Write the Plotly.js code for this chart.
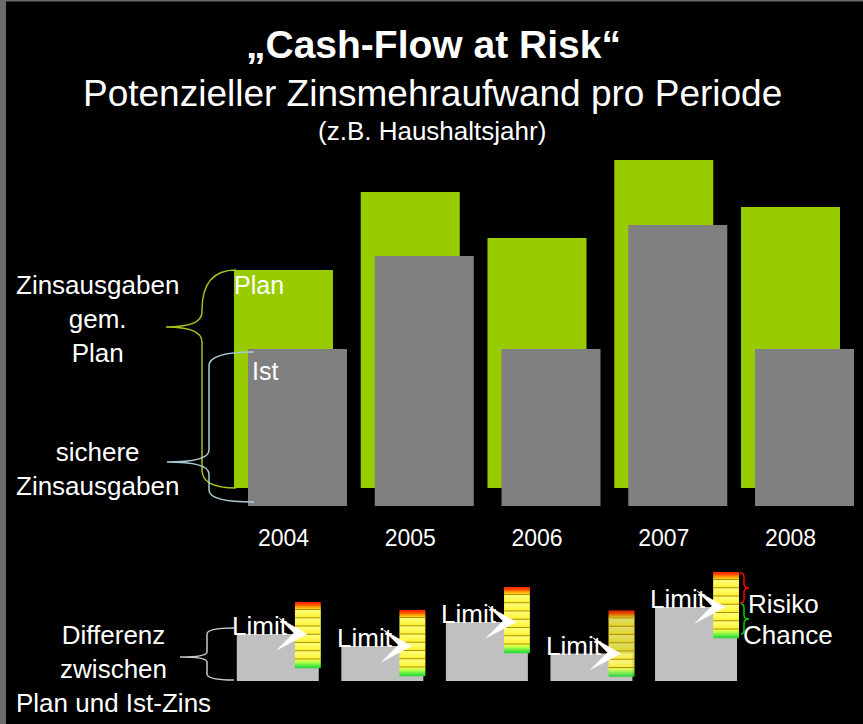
<!DOCTYPE html>
<html>
<head>
<meta charset="utf-8">
<script src="https://cdn.plot.ly/plotly-3.0.1.min.js"></script>
<style>
html,body{margin:0;padding:0;background:#000;}
#chart{width:863px;height:724px;}
</style>
</head>
<body>
<div id="chart"></div>
<script>
// ---- data ----
const years = ['2004', '2005', '2006', '2007', '2008'];
const planValues = [21.8, 29.6, 25.0, 32.8, 28.1];   // Zinsausgaben gem. Plan
const istValues = [15.7, 25.0, 15.7, 28.1, 15.7];    // sichere Zinsausgaben (Ist)
const limitValues = [4.7, 3.5, 5.9, 2.75, 7.4];      // Differenz Plan / Ist (Limit)
const bandMidValues = [4.6, 3.8, 6.1, 3.75, 7.6];    // Mitte der Risiko/Chance-Skala
const bandHalf = 3.3;

// ---- helpers ----
const W = 863, H = 724;
const fx = p => p / W;
const fy = p => 1 - p / H;
const FONT = 'Liberation Sans, Arial, sans-serif';

function hex2rgb(h){h=h.replace('#','');return [parseInt(h.substr(0,2),16),parseInt(h.substr(2,2),16),parseInt(h.substr(4,2),16)];}
function mix(a,b,t){const A=hex2rgb(a),B=hex2rgb(b);return 'rgb('+A.map((v,i)=>Math.round(v+(B[i]-v)*t)).join(',')+')';}
function stopColor(stops,t){
  for(let i=0;i<stops.length-1;i++){
    if(t<=stops[i+1][0]){const s=(t-stops[i][0])/(stops[i+1][0]-stops[i][0]);return mix(stops[i][1],stops[i+1][1],Math.max(0,Math.min(1,s)));}
  }
  return stops[stops.length-1][1];
}
const lineOffsets = [7.5, 15.75, 24, 32.25, 40.5, 48.75, 57];
function bandColor(t){ // t: px from top, 0..66
  if(t < 7.5) return stopColor([[0,'#ff2a00'],[2,'#ff3c00'],[4.5,'#ff9000'],[7.5,'#ffe828']],t);
  if(t > 57) return stopColor([[57,'#f4ff50'],[60,'#c0ff48'],[63,'#66ee44'],[66,'#22d633']],t);
  let prev = 7.5;
  for(const o of lineOffsets){ if(o<=t) prev=o; }
  return mix('#ffff80','#fff230',(t-prev)/8.25);
}

function brace(xe, yt, xs, xt, ym, yb, r1, r2, r3){
  return `M${xe},${yt} Q${xs},${yt} ${xs},${yt+r1} L${xs},${ym-r2} Q${xs},${ym} ${xt},${ym} Q${xs},${ym} ${xs},${ym+r2} L${xs},${yb-r3} Q${xs},${yb} ${xe},${yb}`;
}

// ---- traces ----
const traces = [
  {type:'bar', name:'Plan', x:years, y:planValues, xaxis:'x', yaxis:'y',
   marker:{color:'#99cc00'}, width:0.781, hoverinfo:'skip'},
  {type:'bar', name:'Ist', x:years, y:istValues, xaxis:'x2', yaxis:'y2',
   marker:{color:'#808080'}, width:0.781, hoverinfo:'skip'},
  {type:'bar', name:'Limit', x:years, y:limitValues, xaxis:'x3', yaxis:'y3',
   marker:{color:'#c0c0c0'}, width:0.784, hoverinfo:'skip'},
  {type:'scatter', x:[], y:[], xaxis:'x4', yaxis:'y4', hoverinfo:'skip'}
];

// ---- shapes ----
const shapes = [];
// border
shapes.push({type:'rect', xref:'paper', yref:'paper', x0:0, x1:fx(6), y0:0, y1:1, fillcolor:'#6b6b6b', line:{width:0}});
shapes.push({type:'rect', xref:'paper', yref:'paper', x0:0, x1:1, y0:fy(1.5), y1:1, fillcolor:'#6b6b6b', line:{width:0}});

// gradient bands (Risiko / Chance scale) per year
years.forEach((yr, i) => {
  const mid = bandMidValues[i];
  const top = mid + bandHalf;
  const x0 = i + 0.164, x1 = i + 0.411;
  for(let k=0;k<66;k++){
    shapes.push({type:'rect', xref:'x3', yref:'y3', x0:x0, x1:x1,
      y0: top - k*0.1, y1: top - k*0.1 - 0.12,
      fillcolor: bandColor(k+0.5), line:{width:0}});
  }
  lineOffsets.forEach(o => {
    shapes.push({type:'line', xref:'x3', yref:'y3', x0:x0, x1:x1, y0: top - o*0.1, y1: top - o*0.1,
      line:{color:'#b08f00', width:1}});
  });
  // arrow from "Limit" to scale
  const lim = limitValues[i];
  const tx = i + 0.279, ty = lim;
  const path = `M${tx},${ty} L${tx-0.268},${ty+1.6} L${tx-0.125},${ty+0.1} L${tx-0.287},${ty-1.6} Z`;
  shapes.push({type:'path', xref:'x3', yref:'y3', path:path, fillcolor:'#ffffff', line:{color:'#ffffff', width:0.5}});
});

// braces (pixel overlay)
shapes.push({type:'path', xref:'x4', yref:'y4', path:brace(236,270,202,166,327,488,40,15,18), line:{color:'#a4c21e', width:1.5}});
shapes.push({type:'path', xref:'x4', yref:'y4', path:brace(254,352,209,167,462,502,14,12,12), line:{color:'#a8ccd4', width:1.5}});
shapes.push({type:'path', xref:'x4', yref:'y4', path:brace(234,628,207,180,657,680,6,5,6), line:{color:'#c8c8c8', width:1.5}});
shapes.push({type:'path', xref:'x4', yref:'y4', path:brace(740,573,744,749,588,603,4,4,4), line:{color:'#ff0000', width:1.5}});
shapes.push({type:'path', xref:'x4', yref:'y4', path:brace(741,604,744,749,619,634,4,4,4), line:{color:'#00cc00', width:1.5}});

// ---- annotations ----
function txt(x, baseline, text, size, opts){
  const o = Object.assign({xanchor:'center', align:'center', bold:false}, opts||{});
  return {xref:'x4', yref:'y4', x:x, y: baseline + 0.212*size + 1, yanchor:'bottom',
    xanchor:o.xanchor, align:o.align, showarrow:false,
    text: o.bold ? '<b>'+text+'</b>' : text,
    font:{family:FONT, size:size, color:'#ffffff'}};
}
const annotations = [
  txt(433, 59, '„Cash-Flow at Risk“', 39, {bold:true}),
  txt(432, 107, 'Potenzieller Zinsmehraufwand pro Periode', 37),
  txt(432, 141, '(z.B. Haushaltsjahr)', 26),
  txt(97, 363, 'Zinsausgaben<br>gem.<br>Plan', 26),
  txt(97, 496, 'sichere<br>Zinsausgaben', 26),
  txt(113, 713, 'Differenz<br>zwischen<br>Plan und Ist-Zins', 26),
  txt(746, 614, 'Risiko', 26, {xanchor:'left', align:'left'}),
  txt(741, 645, 'Chance', 26, {xanchor:'left', align:'left'}),
  {xref:'x', yref:'y', x:-0.406, y:planValues[0]-2.3, yshift:-7.5, xanchor:'left', yanchor:'bottom',
   text:'Plan', showarrow:false, font:{family:FONT, size:25, color:'#ffffff'}},
  {xref:'x2', yref:'y2', x:-0.375, y:istValues[0]-3.0, yshift:-8, xanchor:'left', yanchor:'bottom',
   text:'Ist', showarrow:false, font:{family:FONT, size:25, color:'#ffffff'}}
];
years.forEach((yr, i) => {
  annotations.push({xref:'x3', yref:'y3', x:i-0.456, y:limitValues[i], yshift:-9, xanchor:'left', yanchor:'bottom',
    text:'Limit', showarrow:false, font:{family:FONT, size:26, color:'#ffffff'}});
});

const hidden = {visible:false, showgrid:false, zeroline:false, fixedrange:true};
const layout = {
  width:W, height:H, margin:{l:0, r:0, t:0, b:0, pad:0},
  paper_bgcolor:'#000000', plot_bgcolor:'rgba(0,0,0,0)',
  showlegend:false, barmode:'group',
  xaxis: {domain:[fx(220.1), fx(853.9)], range:[-0.5, 4.5], type:'category', anchor:'y',
          showgrid:false, zeroline:false, showline:false, ticks:'', ticklabelstandoff:34,
          tickfont:{family:FONT, size:23, color:'#ffffff'}, fixedrange:true},
  yaxis: Object.assign({domain:[fy(488), fy(128)], range:[0, 36], anchor:'x'}, hidden),
  xaxis2: Object.assign({domain:[fx(220.1), fx(853.9)], range:[-0.6105, 4.3895], type:'category', anchor:'y2'}, hidden),
  yaxis2: Object.assign({domain:[fy(506), fy(146)], range:[0, 36], anchor:'x2'}, hidden),
  xaxis3: Object.assign({domain:[fx(225.5), fx(748.3)], range:[-0.5, 4.5], type:'category', anchor:'y3'}, hidden),
  yaxis3: Object.assign({domain:[fy(681), fy(561)], range:[0, 12], anchor:'x3'}, hidden),
  xaxis4: Object.assign({domain:[0, 1], range:[0, W], anchor:'y4'}, hidden),
  yaxis4: Object.assign({domain:[0, 1], range:[H, 0], anchor:'x4'}, hidden),
  shapes: shapes,
  annotations: annotations
};

Plotly.newPlot('chart', traces, layout, {staticPlot:true, displayModeBar:false});
</script>
</body>
</html>
